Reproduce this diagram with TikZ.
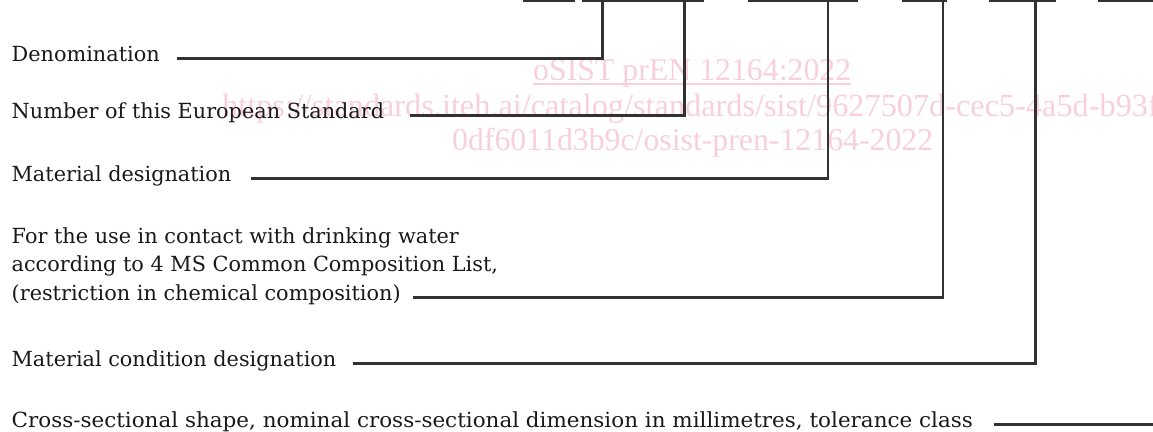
\documentclass[tikz,border=0pt]{standalone}
\usepackage{fontspec}
\setmainfont{DejaVu Serif}
\newfontfamily\wmfont{Liberation Serif}
\definecolor{wm}{RGB}{248,208,220}
\definecolor{ink}{RGB}{50,50,50}
\begin{document}
\begin{tikzpicture}[x=1pt,y=-1pt,
 lbl/.style={inner sep=0pt, anchor=base west, font=\fontsize{20.8}{28}\selectfont, text=black!90},
 conn/.style={draw=ink, line width=2.3pt},
 bar/.style={draw=ink, line width=2.6pt},
 wmark/.style={inner sep=0pt, anchor=base west, text=wm, font=\wmfont\fontsize{31.8}{35}\selectfont}]
\useasboundingbox (0,0) rectangle (1153,431);
% watermark
\begin{scope}
\clip (0,0) rectangle (1153,431);
\node[wmark] (w0) at (452,-22) {(};
\node[wmark] (w1) at (533,80) {oSIST prEN 12164:2022};
\draw[wm, line width=1.2pt] ([yshift=-4pt]w1.base west) -- ([yshift=-4pt]w1.base east);
\node[wmark, font=\wmfont\fontsize{32.3}{35}\selectfont] (w2) at (222,116) {https://standards.iteh.ai/catalog/standards/sist/9627507d-cec5-4a5d-b93f-};
\node[wmark] (w3) at (452,150) {0df6011d3b9c/osist-pren-12164-2022};
\end{scope}
% top bars
\coordinate (b1a) at (523,1);  \coordinate (b1b) at (575,1);
\coordinate (b2a) at (582,1);  \coordinate (b2b) at (704,1);
\coordinate (b3a) at (748,1);  \coordinate (b3b) at (858,1);
\coordinate (b4a) at (902,1);  \coordinate (b4b) at (947,1);
\coordinate (b5a) at (989,1);  \coordinate (b5b) at (1056,1);
\coordinate (b6a) at (1098,1); \coordinate (b6b) at (1153,1);
\foreach \i in {1,...,6} {\draw[bar] (b\i a) -- (b\i b);}
% tap points
\coordinate (tDen) at (602.5,1);
\coordinate (tNum) at (684.5,1);
\coordinate (tMat) at (828,1);
\coordinate (tDw) at (943,1);
\coordinate (tCond) at (1035.5,1);
\coordinate (csEnd) at (1153,0);
% labels
\node[lbl] (den) at (11.5,61) {Denomination};
\node[lbl] (num) at (11.5,118) {Number of this European Standard};
\node[lbl] (mat) at (11.5,181) {Material designation};
\node[lbl] (dw1) at (11.5,243) {For the use in contact with drinking water};
\node[lbl] (dw2) at (11.5,271) {according to 4 MS Common Composition List,};
\node[lbl] (dw3) at (11.5,300) {(restriction in chemical composition)};
\node[lbl] (cond) at (11.5,366) {Material condition designation};
\node[lbl] (cs) at (11.5,427) {\scalebox{1.032}[1]{Cross-sectional shape, nominal cross-sectional dimension in millimetres, tolerance class}};
% connectors
\draw[conn] ([xshift=17pt]den.mid east) -| (tDen);
\draw[conn] ([xshift=26pt]num.mid east) -| (tNum);
\draw[conn] ([xshift=19pt]mat.mid east) -| (tMat);
\draw[conn] ([xshift=12pt]dw3.mid east) -| (tDw);
\draw[conn] ([xshift=16pt]cond.mid east) -| (tCond);
\draw[conn] ([xshift=21pt]cs.mid east) -- (cs.mid east -| csEnd);
\end{tikzpicture}
\end{document}
